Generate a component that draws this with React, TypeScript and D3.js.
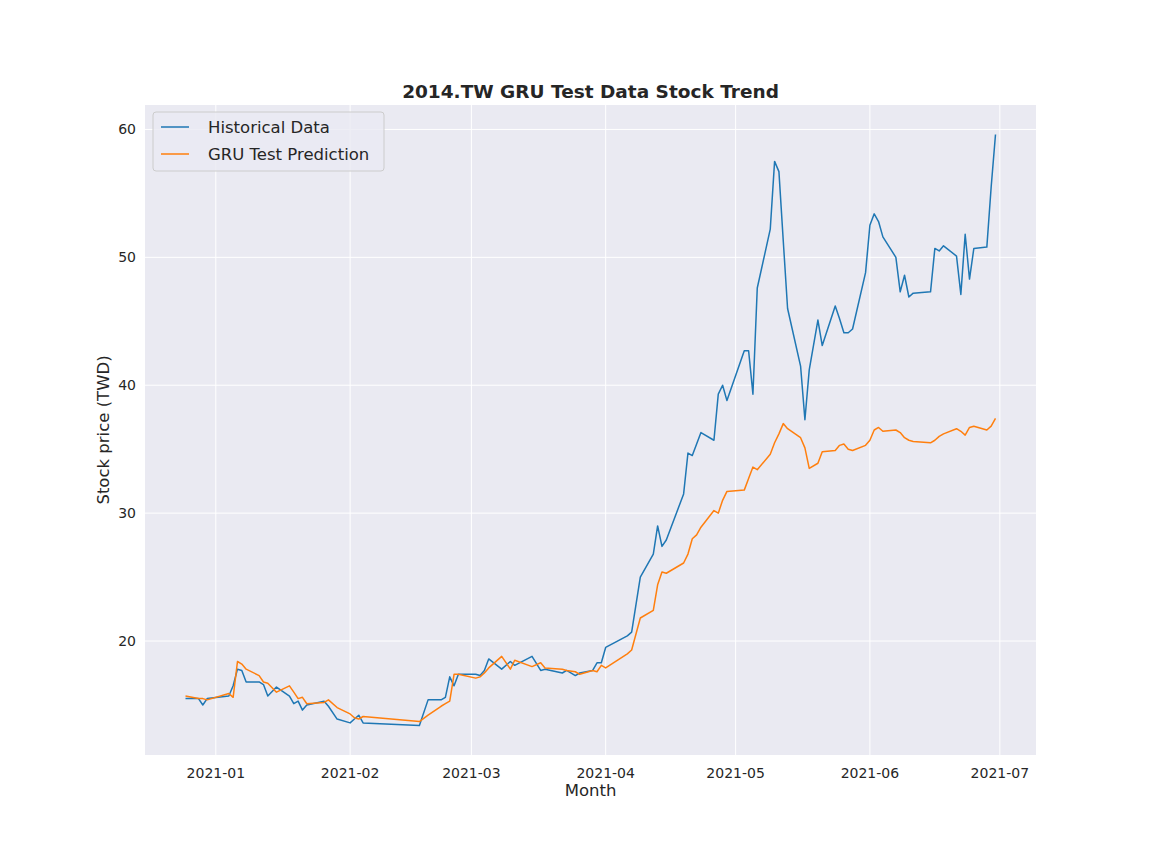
import { useEffect } from 'react';
import * as d3 from 'd3';

// days since 2021-01-01 of each trading day
const tradingDays = [
  -7, -4, -3, -2, 3, 4, 5, 6, 7, 10, 11, 12, 14, 17, 18, 19, 20, 21, 25, 26, 28, 31, 32, 33, 34,
  47, 49, 52, 53, 54, 55, 56, 60, 61, 62, 63, 66, 68, 69, 73, 75, 76, 80, 81, 83, 84, 87, 88, 89, 90,
  95, 96, 98, 101, 102, 103, 104, 108, 109, 110, 111, 112, 115, 116, 117, 118, 122, 123, 124, 125,
  128, 129, 130, 131, 132, 135, 136, 137, 139, 140, 143, 144, 145, 146, 147, 150, 151, 152, 153, 154,
  157, 158, 159, 160, 161, 165, 166, 167, 168, 171, 172, 173, 174, 175, 178, 179, 180,
];

const historical = [
  15.5, 15.5, 15.0, 15.5, 15.7, 16.5, 17.8, 17.7, 16.8, 16.8, 16.6, 15.7, 16.4, 15.7, 15.1, 15.3, 14.6, 15.0, 15.3, 14.9, 13.9, 13.6, 13.9, 14.2, 13.6,
  13.4, 15.4, 15.4, 15.6, 17.2, 16.5, 17.4, 17.4, 17.3, 17.7, 18.6, 17.8, 18.4, 18.1, 18.8, 17.7, 17.8, 17.5, 17.7, 17.3, 17.5, 17.7, 18.3, 18.3, 19.5,
  20.4, 20.7, 25.0, 26.8, 29.0, 27.4, 27.9, 31.5, 34.7, 34.5, 35.4, 36.3, 35.7, 39.3, 40.0, 38.8, 42.7, 42.7, 39.3, 47.6,
  52.2, 57.5, 56.7, 51.3, 46.0, 41.5, 37.3, 41.2, 45.1, 43.1, 46.2, 45.2, 44.1, 44.1, 44.4, 48.8, 52.5, 53.4, 52.8, 51.6,
  50.0, 47.3, 48.6, 46.9, 47.2, 47.3, 50.7, 50.5, 50.9, 50.1, 47.1, 51.8, 48.3, 50.7, 50.8, 55.5, 59.6,
];

const prediction = [
  15.7, 15.5, 15.5, 15.4, 15.9, 15.6, 18.4, 18.2, 17.8, 17.3, 16.8, 16.7, 16.0, 16.5, 16.0, 15.5, 15.6, 15.1, 15.2, 15.4, 14.8, 14.3, 14.0, 13.9, 14.1,
  13.7, 14.2, 14.9, 15.1, 15.3, 17.4, 17.4, 17.1, 17.2, 17.5, 17.9, 18.8, 17.8, 18.5, 18.0, 18.3, 17.9, 17.8, 17.7, 17.6, 17.4, 17.7, 17.6, 18.1, 17.9,
  19.0, 19.3, 21.8, 22.4, 24.4, 25.4, 25.3, 26.1, 26.8, 28.0, 28.3, 28.9, 30.2, 30.0, 31.0, 31.7, 31.8, 32.7, 33.6, 33.4,
  34.6, 35.5, 36.2, 37.0, 36.6, 35.9, 35.1, 33.5, 33.9, 34.8, 34.9, 35.3, 35.4, 35.0, 34.9, 35.3, 35.7, 36.5, 36.7, 36.4,
  36.5, 36.3, 35.9, 35.7, 35.6, 35.5, 35.7, 36.0, 36.2, 36.6, 36.4, 36.1, 36.7, 36.8, 36.5, 36.8, 37.4,
];

const yTicks = [20, 30, 40, 50, 60];
const monthTicks = ['2021-01', '2021-02', '2021-03', '2021-04', '2021-05', '2021-06', '2021-07'];

const W = 1152;
const H = 864;
const margin = { left: 145, right: 116, top: 105, bottom: 109 };
const FONT = 'DejaVu Sans, sans-serif';

export default function App() {
  useEffect(() => {
    document.body.style.margin = '0';
  }, []);

  const base = new Date(2021, 0, 1);
  const dates = tradingDays.map(d => d3.timeDay.offset(base, d));
  const [dMin, dMax] = d3.extent(dates) as [Date, Date];
  const pad = (+dMax - +dMin) * 0.05;
  const x = d3.scaleTime()
    .domain([new Date(+dMin - pad), new Date(+dMax + pad)])
    .range([margin.left, W - margin.right]);

  const all = historical.concat(prediction);
  const yLo = d3.min(all)!;
  const yHi = d3.max(all)!;
  const yPad = (yHi - yLo) * 0.05;
  const y = d3.scaleLinear()
    .domain([yLo - yPad, yHi + yPad])
    .range([H - margin.bottom, margin.top]);

  const line = d3.line<number>()
    .x((_, i) => x(dates[i]))
    .y(v => y(v));

  const parse = d3.timeParse('%Y-%m');

  return (
    <svg width={W} height={H} style={{ display: 'block', background: '#fff' }} fontFamily={FONT}>
      <rect x={margin.left} y={margin.top} width={W - margin.left - margin.right}
        height={H - margin.top - margin.bottom} fill="#eaeaf2" />
      {monthTicks.map(m => {
        const px = x(parse(m)!);
        return (
          <g key={m}>
            <line x1={px} x2={px} y1={margin.top} y2={H - margin.bottom} stroke="#fff" strokeWidth={1} />
            <text x={px} y={H - margin.bottom + 23} textAnchor="middle" fontSize={14} fill="#262626">{m}</text>
          </g>
        );
      })}
      {yTicks.map(t => (
        <g key={t}>
          <line x1={margin.left} x2={W - margin.right} y1={y(t)} y2={y(t)} stroke="#fff" strokeWidth={1} />
          <text x={margin.left - 9} y={y(t)} dy="0.35em" textAnchor="end" fontSize={14} fill="#262626">{t}</text>
        </g>
      ))}
      <path d={line(historical)!} fill="none" stroke="#1f77b4" strokeWidth={1.5} strokeLinejoin="round" />
      <path d={line(prediction)!} fill="none" stroke="#ff7f0e" strokeWidth={1.5} strokeLinejoin="round" />

      <text x={(margin.left + W - margin.right) / 2} y={98} textAnchor="middle" fontSize={18.5}
        fontWeight="bold" fill="#262626">2014.TW  GRU Test Data Stock Trend</text>
      <text x={(margin.left + W - margin.right) / 2} y={796} textAnchor="middle" fontSize={16.5}
        fill="#262626">Month</text>
      <text transform={`translate(109,${(margin.top + H - margin.bottom) / 2}) rotate(-90)`} textAnchor="middle"
        fontSize={16.5} fill="#262626">Stock price (TWD)</text>

      <g transform="translate(153,112)">
        <rect width={231} height={59} rx={3} fill="#eaeaf2" fillOpacity={0.8} stroke="#cccccc" />
        <line x1={8} x2={36} y1={15} y2={15} stroke="#1f77b4" strokeWidth={1.5} />
        <text x={55} y={15} dy="0.35em" fontSize={16.5} fill="#262626">Historical Data</text>
        <line x1={8} x2={36} y1={42} y2={42} stroke="#ff7f0e" strokeWidth={1.5} />
        <text x={55} y={42} dy="0.35em" fontSize={16.5} fill="#262626">GRU Test Prediction</text>
      </g>
    </svg>
  );
}
